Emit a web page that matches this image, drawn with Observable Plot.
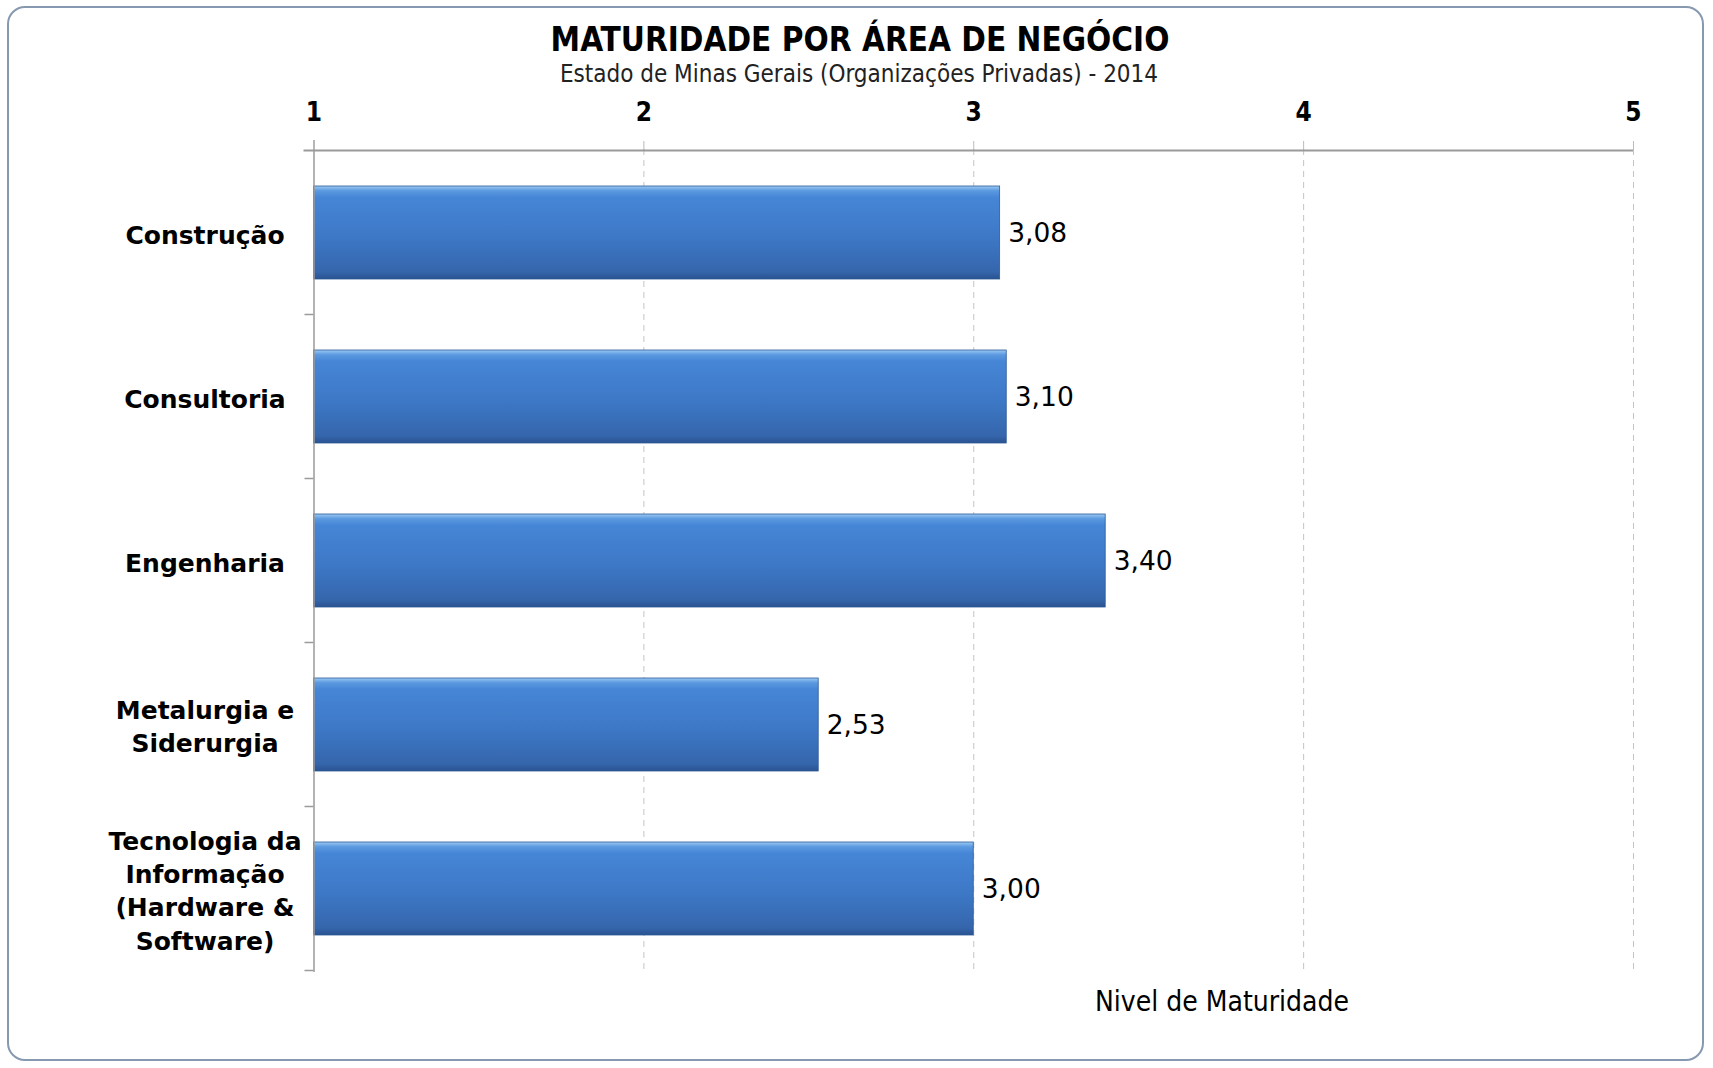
<!DOCTYPE html>
<html><head><meta charset="utf-8">
<script src="https://cdn.jsdelivr.net/npm/d3@7"></script>
<script src="https://cdn.jsdelivr.net/npm/@observablehq/plot@0.6"></script>
<style>
body{margin:0;background:#fff;}
#wrap{position:relative;width:1713px;height:1068px;overflow:hidden;font-family:"DejaVu Sans",sans-serif;background:#fff;}
#frame{position:absolute;left:7px;top:6px;width:1697px;height:1055px;border:2px solid #8799b0;border-radius:18px;box-sizing:border-box;}
#title{position:absolute;left:0;width:1720px;top:21px;text-align:center;font-family:"DejaVu Sans Condensed","DejaVu Sans";font-stretch:condensed;font-weight:bold;font-size:33px;line-height:38px;color:#000;}
#subtitle{position:absolute;left:0;width:1718px;top:60px;text-align:center;font-family:"DejaVu Sans Condensed","DejaVu Sans";font-stretch:condensed;font-size:24px;line-height:28px;color:#222;}
#xlabel{position:absolute;left:1022px;width:400px;top:986px;text-align:center;font-family:"DejaVu Sans Condensed","DejaVu Sans";font-stretch:condensed;font-size:28px;line-height:32px;color:#000;}
#chart{position:absolute;left:0;top:88px;}
</style></head>
<body>
<div id="wrap">
  <div id="frame"></div>
  <div id="title">MATURIDADE POR ÁREA DE NEGÓCIO</div>
  <div id="subtitle">Estado de Minas Gerais (Organizações Privadas) - 2014</div>
  <div id="chart"></div>
  <div id="xlabel">Nivel de Maturidade</div>
</div>
<script>
const categories = ["Construção","Consultoria","Engenharia","Metalurgia e\nSiderurgia","Tecnologia da\nInformação\n(Hardware &\nSoftware)"];
const values = [3.08, 3.10, 3.40, 2.53, 3.00];
const valueLabels = ["3,08","3,10","3,40","2,53","3,00"];
const xTicks = [1, 2, 3, 4, 5];

const data = categories.map((c, i) => ({cat: c, value: values[i], label: valueLabels[i]}));

const plot = Plot.plot({
  width: 1713,
  height: 960,
  marginTop: 61,
  marginLeft: 313.5,
  marginRight: 80,
  marginBottom: 76,
  style: {background: "transparent", overflow: "visible"},
  x: {domain: [1, 5], axis: null},
  y: {domain: categories, paddingInner: 0.43, paddingOuter: 0.215, axis: null},
  marks: [
    Plot.ruleX(xTicks.slice(1), {stroke: "#c4c4c4", strokeWidth: 1, strokeDasharray: "6,5"}),
    Plot.barX(data, {x1: 1, x2: "value", y: "cat", fill: "url(#barGrad)", stroke: "#2c5a96", strokeWidth: 0.8}),
    Plot.ruleX([1], {stroke: "#9a9a9a", strokeWidth: 1.5, insetTop: -9}),
    Plot.axisX({anchor: "top", ticks: xTicks, tickFormat: d => String(d), tickSize: 9, tickPadding: 20,
      stroke: "#bbbbbb", fontSize: 26, fontWeight: "bold", fill: "#000", fontFamily: "DejaVu Sans Condensed, DejaVu Sans", label: null}),
    Plot.text(data, {y: "cat", text: "cat", frameAnchor: "left", dx: -109, textAnchor: "middle", lineAnchor: "middle",
      lineHeight: 1.33, fontSize: 25, fontWeight: "bold", fill: "#000", fontFamily: "DejaVu Sans"}),
    Plot.text(data, {x: "value", y: "cat", text: "label", dx: 8, dy: 1, textAnchor: "start", fontSize: 26.5, fill: "#000",
      fontFamily: "DejaVu Sans"})
  ]
});

// gradient for bevelled bars
const svg = d3.select(plot);
svg.insert("defs", ":first-child").html(`
  <linearGradient id="barGrad" x1="0" y1="0" x2="0" y2="1">
    <stop offset="0" stop-color="#9ccaf5"/>
    <stop offset="0.05" stop-color="#5c9ae0"/>
    <stop offset="0.12" stop-color="#4686d6"/>
    <stop offset="0.55" stop-color="#3d78c6"/>
    <stop offset="0.92" stop-color="#3566ac"/>
    <stop offset="1" stop-color="#2a5290"/>
  </linearGradient>`);

// axis lines and band boundary ticks, from the plot's own scales
const xs = plot.scale("x");
const ys = plot.scale("y");
const starts = categories.map(c => ys.apply(c));
const step = starts[1] - starts[0];
const bw = ys.bandwidth;
const centers = starts.map(s => s + bw / 2);
const bounds = centers.map(c => c - step / 2).concat([centers[centers.length - 1] + step / 2]);
const x0 = xs.apply(xTicks[0]);
const x1 = xs.apply(xTicks[xTicks.length - 1]);
svg.append("line").attr("x1", x0 - 10).attr("x2", x1).attr("y1", bounds[0]).attr("y2", bounds[0])
  .attr("stroke", "#9a9a9a").attr("stroke-width", 2);
svg.append("g").selectAll("line").data(bounds.slice(1)).join("line")
  .attr("x1", x0 - 9).attr("x2", x0).attr("y1", d => d).attr("y2", d => d)
  .attr("stroke", "#9a9a9a").attr("stroke-width", 1.5);

document.getElementById("chart").appendChild(plot);
</script>
</body></html>
